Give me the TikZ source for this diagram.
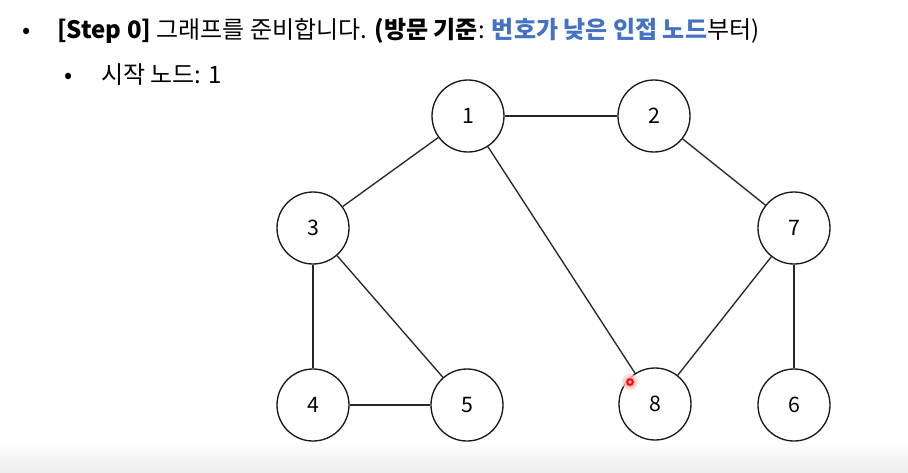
\documentclass[tikz,border=0pt]{standalone}
\usepackage{fontspec}
\setmainfont{Noto Sans CJK KR}
\usetikzlibrary{positioning}
\definecolor{keyblue}{HTML}{4472C4}
\tikzset{state/.style={shape=circle, draw=black!90, fill=white, line width=1pt,
    inner sep=0pt, minimum size=54pt, font=\fontsize{16}{16}\selectfont}}
\tikzset{edge/.style={draw=black!85, line width=1pt}}
\tikzset{bodytext/.style={anchor=base west, inner sep=0pt, font=\fontsize{18}{18}\selectfont}}

\begin{document}
\begin{tikzpicture}[x=0.75pt, y=-0.75pt]
    \useasboundingbox (0,0) rectangle (908,472);

    %%%% Bottom strip
    \shade[top color=white, bottom color=black!7] (0,442) rectangle (908,472);

    %%%% Bullet text
    \node[bodytext](b1) at (22,38)  {•};
    \node[bodytext](t1) at (57,38)  {\textbf{[Step 0]} 그래프를 준비합니다. \textbf{(방문 기준}: \textcolor{keyblue}{\textbf{번호가 낮은 인접 노드}}부터)};
    \node[bodytext](b2) at (64,83)  {•};
    \node[bodytext](t2) at (101,83) {시작 노드: 1};

    %%%% Graph nodes
    \node[state](n1) at (468,116) {1};
    \node[state](n2) at (654,116) {2};
    \node[state](n3) at (313,228) {3};
    \node[state](n7) at (794,228) {7};
    \node[state](n4) at (313,405) {4};
    \node[state](n5) at (467,405) {5};
    \node[state](n8) at (655,404) {8};
    \node[state](n6) at (794,405) {6};

    %%%% Edges
    \draw[edge] (n1) to (n2);
    \draw[edge] (n1) to (n3);
    \draw[edge] (n1) to (n8);
    \draw[edge] (n2) to (n7);
    \draw[edge] (n3) to (n4);
    \draw[edge] (n3) to (n5);
    \draw[edge] (n4) to (n5);
    \draw[edge] (n7) to (n8);
    \draw[edge] (n7) to (n6);

    %%%% Pointer dot
    \fill[red!20, opacity=0.7] (630,382) circle (8);
    \fill[red!40, opacity=0.7] (630,382) circle (5.5);
    \draw[red, line width=1.4pt, fill=red!30] (630,382) circle (2.8);
\end{tikzpicture}
\end{document}
